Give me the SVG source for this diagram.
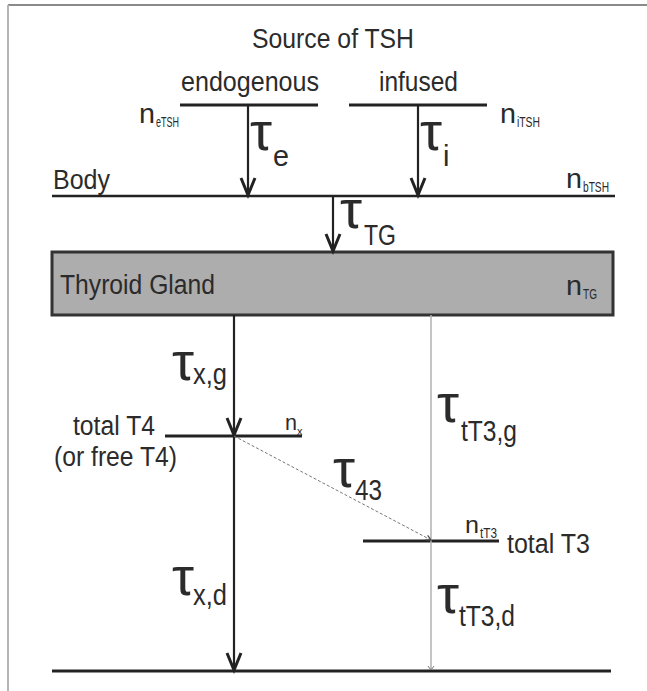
<svg xmlns="http://www.w3.org/2000/svg" width="647" height="691" viewBox="0 0 647 691">
<defs>
<style>
text{font-family:"Liberation Sans",Arial,sans-serif;fill:#2b2b2b;}
.lbl{font-size:27px;}
.n{font-size:27px;}
.ns{font-size:14px;}
.tau{font-size:54px;}
.ts{font-size:29px;}
.bar{stroke:#222;stroke-width:3;fill:none;}
.arr{stroke:#222;stroke-width:2.2;fill:none;marker-end:url(#ah);}
.gray{stroke:#b0b0b0;stroke-width:1.5;fill:none;}
.dash{stroke:#777;stroke-width:1;stroke-dasharray:3 2;fill:none;marker-end:url(#sah);}
</style>
<marker id="ah" markerUnits="userSpaceOnUse" viewBox="-20 -10 24 20" refX="0" refY="0" markerWidth="24" markerHeight="20" orient="auto" overflow="visible">
<path d="M -17,-7 L 0,0 L -17,7" fill="none" stroke="#222" stroke-width="3"/>
</marker>
<marker id="sah" markerUnits="userSpaceOnUse" viewBox="-8 -4 10 8" refX="0" refY="0" markerWidth="10" markerHeight="8" orient="auto" overflow="visible">
<path d="M -5,-2.5 L 0,0 L -5,2.5" fill="none" stroke="#444" stroke-width="1.2"/>
</marker>
</defs>
<rect x="0" y="0" width="647" height="691" fill="#fff"/>
<g id="frame">
<line x1="8" y1="5" x2="647" y2="5" stroke="#8a8a8a" stroke-width="2"/>
<line x1="8" y1="5" x2="8" y2="691" stroke="#b5b5b5" stroke-width="2"/>
</g>
<text class="lbl" x="252" y="48" textLength="162" lengthAdjust="spacingAndGlyphs">Source of TSH</text>
<g id="endogenous">
<line class="bar" x1="180" y1="105" x2="318" y2="105"/>
<text class="lbl" x="181" y="91" textLength="138" lengthAdjust="spacingAndGlyphs">endogenous</text>
<text class="n" x="139" y="123" textLength="16" lengthAdjust="spacingAndGlyphs">n</text><text class="ns" x="156" y="127" textLength="23" lengthAdjust="spacingAndGlyphs">eTSH</text>
</g>
<g id="infused">
<line class="bar" x1="349" y1="105" x2="487" y2="105"/>
<text class="lbl" x="379" y="91" textLength="79" lengthAdjust="spacingAndGlyphs">infused</text>
<text class="n" x="500" y="123" textLength="16" lengthAdjust="spacingAndGlyphs">n</text><text class="ns" x="517" y="127" textLength="23" lengthAdjust="spacingAndGlyphs">iTSH</text>
</g>
<g id="body">
<line class="bar" x1="52" y1="196" x2="615" y2="196" style="stroke-width:2.5"/>
<text class="lbl" x="53" y="189" textLength="57" lengthAdjust="spacingAndGlyphs">Body</text>
<text class="n" x="566" y="188" textLength="16" lengthAdjust="spacingAndGlyphs">n</text><text class="ns" x="583" y="192" textLength="26" lengthAdjust="spacingAndGlyphs">bTSH</text>
</g>
<g id="thyroid">
<rect x="52" y="252" width="561" height="63" fill="#adadad" stroke="#333" stroke-width="3"/>
<text class="lbl" x="60" y="294" textLength="155" lengthAdjust="spacingAndGlyphs">Thyroid Gland</text>
<text class="n" x="566" y="295" textLength="16" lengthAdjust="spacingAndGlyphs">n</text><text class="ns" x="583" y="299" textLength="14" lengthAdjust="spacingAndGlyphs">TG</text>
</g>
<g id="totalT4">
<line class="bar" x1="165" y1="436" x2="302" y2="436"/>
<text class="lbl" x="73" y="435" textLength="82" lengthAdjust="spacingAndGlyphs">total T4</text>
<text class="lbl" x="54" y="466" textLength="123" lengthAdjust="spacingAndGlyphs">(or free T4)</text>
<text class="n" x="285" y="430" style="font-size:22px" textLength="12" lengthAdjust="spacingAndGlyphs">n</text><text class="ns" x="297" y="435" style="font-size:11px">x</text>
</g>
<g id="totalT3">
<line class="bar" x1="363" y1="541" x2="499" y2="541"/>
<text class="lbl" x="507" y="553" textLength="83" lengthAdjust="spacingAndGlyphs">total T3</text>
<text class="n" x="465" y="533" style="font-size:24px" textLength="14" lengthAdjust="spacingAndGlyphs">n</text><text class="ns" x="480" y="538" textLength="17" lengthAdjust="spacingAndGlyphs">tT3</text>
</g>
<g id="sink">
<line class="bar" x1="52" y1="671" x2="611" y2="671"/>
</g>
<g id="connectors">
<line class="arr" x1="248" y1="106" x2="248" y2="195"/>
<line class="arr" x1="418" y1="106" x2="418" y2="195"/>
<line class="arr" x1="333" y1="197" x2="333" y2="251"/>
<line class="arr" x1="234" y1="315" x2="234" y2="435"/>
<line class="arr" x1="234" y1="437" x2="234" y2="670"/>
<line class="gray" x1="431" y1="315" x2="431" y2="670"/>
<path d="M 428,666 L 431,670 L 434,666" fill="none" stroke="#777" stroke-width="1"/>
<line class="dash" x1="234" y1="436" x2="431" y2="540"/>
</g>
<g id="labels">
<text class="tau" x="250" y="150" textLength="22" lengthAdjust="spacingAndGlyphs">τ</text><text class="ts" x="273" y="166" textLength="16" lengthAdjust="spacingAndGlyphs">e</text>
<text class="tau" x="420" y="150" textLength="22" lengthAdjust="spacingAndGlyphs">τ</text><text class="ts" x="443" y="166">i</text>
<text class="tau" x="340" y="228" textLength="22" lengthAdjust="spacingAndGlyphs">τ</text><text class="ts" x="364" y="245" textLength="32" lengthAdjust="spacingAndGlyphs">TG</text>
<text class="tau" x="172" y="380" textLength="22" lengthAdjust="spacingAndGlyphs">τ</text><text class="ts" x="193" y="384" textLength="34" lengthAdjust="spacingAndGlyphs">x,g</text>
<text class="tau" x="437" y="422" textLength="22" lengthAdjust="spacingAndGlyphs">τ</text><text class="ts" x="461" y="441" textLength="56" lengthAdjust="spacingAndGlyphs">tT3,g</text>
<text class="tau" x="333" y="487" textLength="22" lengthAdjust="spacingAndGlyphs">τ</text><text class="ts" x="355" y="500" textLength="27" lengthAdjust="spacingAndGlyphs">43</text>
<text class="tau" x="172" y="595" textLength="22" lengthAdjust="spacingAndGlyphs">τ</text><text class="ts" x="193" y="605" textLength="34" lengthAdjust="spacingAndGlyphs">x,d</text>
<text class="tau" x="437" y="613" textLength="22" lengthAdjust="spacingAndGlyphs">τ</text><text class="ts" x="459" y="626" textLength="56" lengthAdjust="spacingAndGlyphs">tT3,d</text>
</g>
</svg>
